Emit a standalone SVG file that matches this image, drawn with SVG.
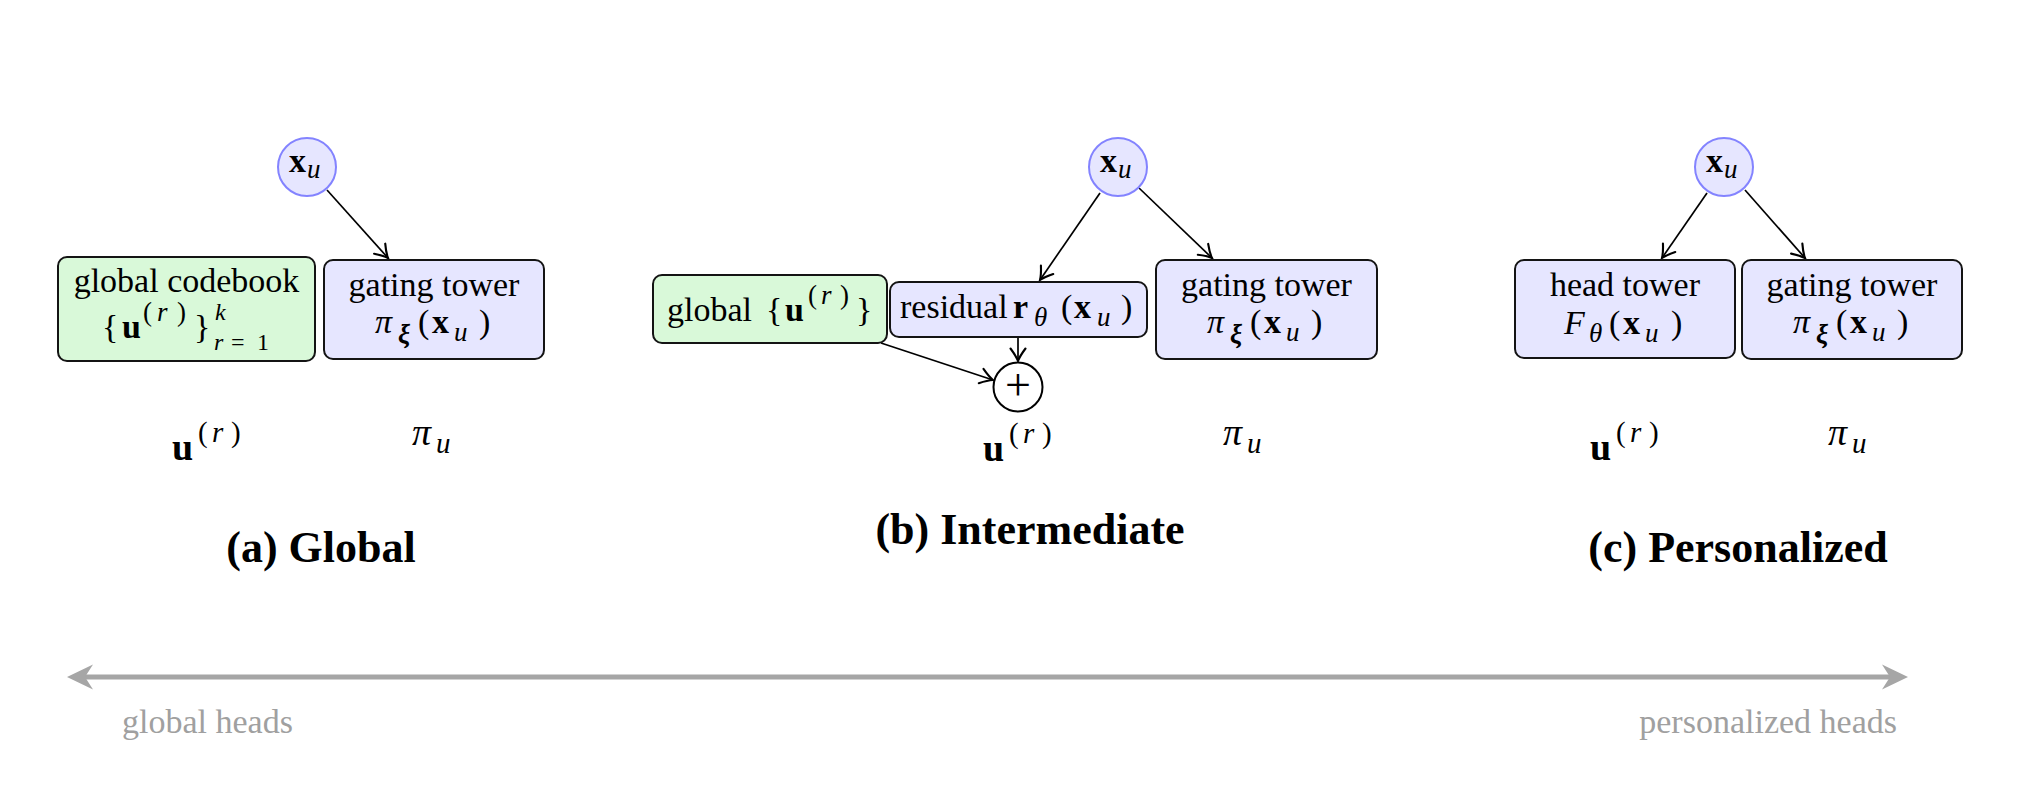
<svg xmlns="http://www.w3.org/2000/svg" width="2020" height="790" viewBox="0 0 2020 790">
<style>
text{font-family:"Liberation Serif","Times New Roman",serif;font-size:34px;fill:#000}
.c{text-anchor:middle}
.e{text-anchor:end}
.b{font-weight:bold}
.i{font-style:italic}
.s{font-size:27px}
.t{font-size:24px}
.L{font-size:38px}
.Ls{font-size:29px}
.title{font-weight:bold;font-size:44px;text-anchor:middle}
.gray{fill:#a0a0a0}
.blue{fill:#e6e6ff;stroke:#141414;stroke-width:2}
.green{fill:#d9f9d9;stroke:#141414;stroke-width:2}
.inp{fill:#e6e6ff;stroke:#8383ff;stroke-width:2}
.sum{fill:#fff;stroke:#000;stroke-width:2}
.edge{stroke:#000;stroke-width:1.7;fill:none;marker-end:url(#arr)}
</style>
<defs>
<marker id="arr" markerUnits="userSpaceOnUse" markerWidth="20" markerHeight="20" viewBox="-12 -8 14 16" refX="0" refY="0" orient="auto">
<path d="M-10,-6 Q-4,-1.5 0,0 Q-4,1.5 -10,6" fill="none" stroke="#000" stroke-width="1.7" stroke-linecap="round"/>
</marker>
</defs>

<g id="connectors">
<line class="edge" x1="327" y1="190" x2="388" y2="258"/>
<line class="edge" x1="1100" y1="193" x2="1040" y2="280"/>
<line class="edge" x1="1139" y1="188" x2="1212" y2="258"/>
<line class="edge" x1="1018" y1="337" x2="1018" y2="361"/>
<line class="edge" x1="881" y1="343" x2="993" y2="380"/>
<line class="edge" x1="1707" y1="193" x2="1662" y2="258"/>
<line class="edge" x1="1745" y1="190" x2="1805" y2="258"/>
<g id="spectrum-arrow">
<line x1="84" y1="677" x2="1892" y2="677" stroke="#a6a6a6" stroke-width="5"/>
<polygon points="67,677 93,664.5 85,677 93,689.5" fill="#a6a6a6"/>
<polygon points="1908,677 1882,664.5 1890,677 1882,689.5" fill="#a6a6a6"/>
</g>
</g>

<!-- (a) Global -->
<g id="a-input">
<circle class="inp" cx="307" cy="167" r="29"/>
<text x="289" y="172" class="b">x</text><text x="307" y="178" class="i s">u</text>
</g>
<g id="a-codebook">
<rect class="green" x="58" y="257" width="257" height="104" rx="9"/>
<text x="186.5" y="292" class="c">global codebook</text>
<text x="102" y="338">{</text>
<text x="122" y="338" class="b">u</text>
<text y="321" class="s"><tspan x="143">(</tspan><tspan x="157" class="i">r</tspan><tspan x="177">)</tspan></text>
<text x="194" y="338">}</text>
<text x="215" y="320" class="i t">k</text>
<text y="350" class="t"><tspan x="214" class="i">r</tspan><tspan x="231">=</tspan><tspan x="257">1</tspan></text>
</g>
<g id="a-gating">
<rect class="blue" x="324" y="260" width="220" height="99" rx="9"/>
<text x="434" y="296" class="c">gating tower</text>
<text x="375" y="333" class="i">π</text>
<text x="398" y="343" class="b i s">ξ</text>
<text x="418" y="333">(</text>
<text x="432" y="333" class="b">x</text>
<text x="454" y="341" class="i s">u</text>
<text x="479" y="333">)</text>
</g>
<g id="a-out-u">
<text x="172" y="460" class="b L">u</text>
<text y="442" class="Ls"><tspan x="198">(</tspan><tspan x="212" class="i">r</tspan><tspan x="231">)</tspan></text>
</g>
<g id="a-out-pi">
<text x="412" y="445" class="i L">π</text><text x="436" y="453" class="i Ls">u</text>
</g>
<text id="a-title" x="321" y="562" class="title">(a) Global</text>

<!-- (b) Intermediate -->
<g id="b-input">
<circle class="inp" cx="1118" cy="167" r="29"/>
<text x="1100" y="172" class="b">x</text><text x="1118" y="178" class="i s">u</text>
</g>
<g id="b-global">
<rect class="green" x="653" y="275" width="234" height="68" rx="9"/>
<text x="667" y="321">global</text>
<text x="766" y="321">{</text>
<text x="785" y="321" class="b">u</text>
<text y="304" class="s"><tspan x="808">(</tspan><tspan x="821" class="i">r</tspan><tspan x="840">)</tspan></text>
<text x="856" y="321">}</text>
</g>
<g id="b-residual">
<rect class="blue" x="890" y="282" width="257" height="55" rx="9"/>
<text x="900" y="318">residual</text>
<text x="1013" y="318" class="b">r</text>
<text x="1034" y="326" class="i s">θ</text>
<text x="1061" y="318">(</text>
<text x="1074" y="318" class="b">x</text>
<text x="1097" y="326" class="i s">u</text>
<text x="1121" y="318">)</text>
</g>
<g id="b-sum">
<circle class="sum" cx="1018" cy="387" r="24.5"/>
<text x="1018" y="400" class="c" style="font-size:46px">+</text>
</g>
<g id="b-gating">
<rect class="blue" x="1156" y="260" width="221" height="99" rx="9"/>
<text x="1266.5" y="296" class="c">gating tower</text>
<text x="1207" y="333" class="i">π</text>
<text x="1230" y="343" class="b i s">ξ</text>
<text x="1250" y="333">(</text>
<text x="1264" y="333" class="b">x</text>
<text x="1286" y="341" class="i s">u</text>
<text x="1311" y="333">)</text>
</g>
<g id="b-out-u">
<text x="983" y="461" class="b L">u</text>
<text y="443" class="Ls"><tspan x="1009">(</tspan><tspan x="1023" class="i">r</tspan><tspan x="1042">)</tspan></text>
</g>
<g id="b-out-pi">
<text x="1223" y="445" class="i L">π</text><text x="1247" y="453" class="i Ls">u</text>
</g>
<text id="b-title" x="1030" y="544" class="title">(b) Intermediate</text>

<!-- (c) Personalized -->
<g id="c-input">
<circle class="inp" cx="1724" cy="167" r="29"/>
<text x="1706" y="172" class="b">x</text><text x="1724" y="178" class="i s">u</text>
</g>
<g id="c-head">
<rect class="blue" x="1515" y="260" width="220" height="98" rx="9"/>
<text x="1625" y="296" class="c">head tower</text>
<text x="1564" y="334" class="i">F</text>
<text x="1589" y="342" class="i s">θ</text>
<text x="1609" y="334">(</text>
<text x="1623" y="334" class="b">x</text>
<text x="1645" y="342" class="i s">u</text>
<text x="1671" y="334">)</text>
</g>
<g id="c-gating">
<rect class="blue" x="1742" y="260" width="220" height="99" rx="9"/>
<text x="1852" y="296" class="c">gating tower</text>
<text x="1793" y="333" class="i">π</text>
<text x="1816" y="343" class="b i s">ξ</text>
<text x="1836" y="333">(</text>
<text x="1850" y="333" class="b">x</text>
<text x="1872" y="341" class="i s">u</text>
<text x="1897" y="333">)</text>
</g>
<g id="c-out-u">
<text x="1590" y="460" class="b L">u</text>
<text y="442" class="Ls"><tspan x="1616">(</tspan><tspan x="1630" class="i">r</tspan><tspan x="1649">)</tspan></text>
</g>
<g id="c-out-pi">
<text x="1828" y="445" class="i L">π</text><text x="1852" y="453" class="i Ls">u</text>
</g>
<text id="c-title" x="1738" y="562" class="title">(c) Personalized</text>

<text x="122" y="733" class="gray">global heads</text>
<text x="1897" y="733" class="gray e">personalized heads</text>
</svg>
